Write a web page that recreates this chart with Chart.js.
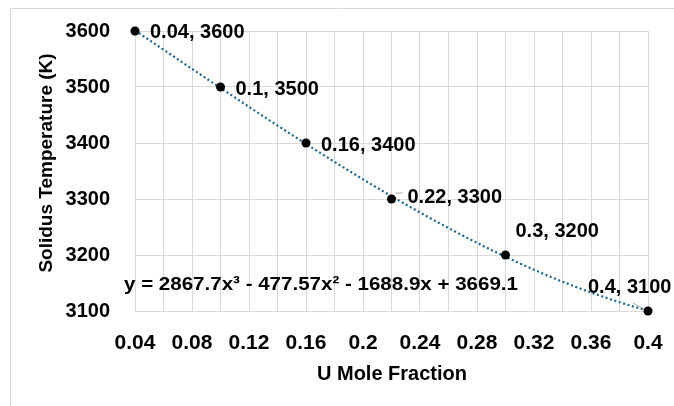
<!DOCTYPE html>
<html>
<head>
<meta charset="utf-8">
<script src="https://cdn.jsdelivr.net/npm/chart.js@4.4.1/dist/chart.umd.min.js"></script>
<style>
  html,body{margin:0;padding:0;background:#fff}
  #wrap{width:674px;height:406px}
</style>
</head>
<body>
<div id="wrap"><canvas id="c" width="674" height="406"></canvas></div>
<script>
// Solidus temperature vs U mole fraction, with cubic trendline
const xVals=[0.04,0.1,0.16,0.22,0.3,0.4];
const yVals=[3600,3500,3400,3300,3200,3100];
const xTickLabels=["0.04","0.08","0.12","0.16","0.2","0.24","0.28","0.32","0.36","0.4"];
const yTickLabels=["3100","3200","3300","3400","3500","3600"];
// trendline coefficients, x^3 first
const fitCoef=[2867.7,-477.57,-1688.9,3669.1];
const fitText="y = 2867.7x³ - 477.57x² - 1688.9x + 3669.1";
const xTitle="U Mole Fraction";
const yTitle="Solidus Temperature (K)";

// label placement relative to each point: [dx to left edge, dy to middle]
const lblOff=[[15,1],[15,2],[15,2],[16,-2],[10,-24],[-60,-24]];

const FONT="'Liberation Sans', Arial, sans-serif";
const GRID="#d9d9d9";

const pts=xVals.map((x,i)=>({x,y:yVals[i]}));
const poly=x=>fitCoef.reduce((s,c)=>s*x+c,0);
const fitPts=[];
for(let k=0;k<=72;k++){const x=0.04+k*0.005;fitPts.push({x,y:poly(x)})}

// fit text to a given width by scaling it horizontally
function fitWidthText(c,txt,x,y,w,align){
  const k=w/c.measureText(txt).width;
  c.save();c.translate(x,y);c.scale(k,1);c.textAlign=align;c.fillText(txt,0,0);c.restore();
}

const extras={
  id:"extras",
  afterDatasetsDraw(chart){
    const c=chart.ctx,xs=chart.scales.x,ys=chart.scales.y;
    c.save();
    // outer frame (top + left edges)
    c.strokeStyle=GRID;c.lineWidth=1;
    c.beginPath();c.moveTo(10.5,406);c.lineTo(10.5,8.5);c.lineTo(674,8.5);c.stroke();

    // leader lines for the offset labels
    c.strokeStyle="#a6a6a6";c.lineWidth=1;
    let px=xs.getPixelForValue(xVals[3]),py=ys.getPixelForValue(yVals[3]);
    c.beginPath();c.moveTo(px+4,py-6);c.lineTo(px+11,py-6);c.stroke();
    px=xs.getPixelForValue(xVals[5]);py=ys.getPixelForValue(yVals[5]);
    c.beginPath();c.moveTo(px-15,py-8);c.lineTo(px-4,py-2);c.stroke();

    // point labels
    c.fillStyle="#000";c.font="bold 20px "+FONT;c.textBaseline="middle";c.textAlign="left";
    xVals.forEach((x,i)=>{
      const lx=xs.getPixelForValue(x)+lblOff[i][0];
      const ly=ys.getPixelForValue(yVals[i])+lblOff[i][1];
      c.fillText(x+", "+yVals[i],lx,ly);
    });

    // trendline equation
    c.font="bold 19px "+FONT;
    fitWidthText(c,fitText,124,285,394,"left");

    // axis titles
    c.font="bold 21px "+FONT;
    fitWidthText(c,xTitle,392,374,150,"center");
    c.translate(47,163);c.rotate(-Math.PI/2);
    c.font="bold 19px "+FONT;c.textAlign="center";
    c.fillText(yTitle,0,0);
    c.restore();
  }
};

new Chart(document.getElementById("c"),{
  type:"scatter",
  data:{datasets:[
    {label:"Trend",data:fitPts,showLine:true,pointRadius:0,pointHoverRadius:0,clip:false,
     borderColor:"#1b6590",borderWidth:2.2,borderDash:[2,2.6],fill:false,order:2},
    {label:"Solidus",data:pts,pointRadius:4.5,pointHoverRadius:4.5,clip:false,
     backgroundColor:"#000",borderColor:"#000",borderWidth:0,order:1}
  ]},
  options:{
    responsive:false,animation:false,devicePixelRatio:1,
    layout:{padding:{left:0,top:31,right:26,bottom:0}},
    plugins:{legend:{display:false},tooltip:{enabled:false}},
    scales:{
      x:{type:"linear",min:0.04,max:0.4,
        // fixed axis band; edge padding comes from layout.padding only
        afterFit:s=>{s.height=95;s.paddingLeft=0;s.paddingRight=0},
        grid:{color:GRID,drawTicks:false},border:{color:GRID},
        ticks:{stepSize:0.02,autoSkip:false,maxRotation:0,padding:20,color:"#000",
          font:{family:FONT,size:21,weight:"bold"},
          callback:(v,i)=>i%2===0?xTickLabels[i/2]:""}},
      y:{type:"linear",min:3100,max:3600,
        afterFit:s=>{s.width=135;s.paddingTop=0;s.paddingBottom=0},
        grid:{color:GRID,drawTicks:false},border:{color:GRID},
        ticks:{stepSize:100,padding:25,color:"#000",
          font:{family:FONT,size:20,weight:"bold"},
          callback:(v,i)=>yTickLabels[i]}}
    }
  },
  plugins:[extras]
});
</script>
</body>
</html>
